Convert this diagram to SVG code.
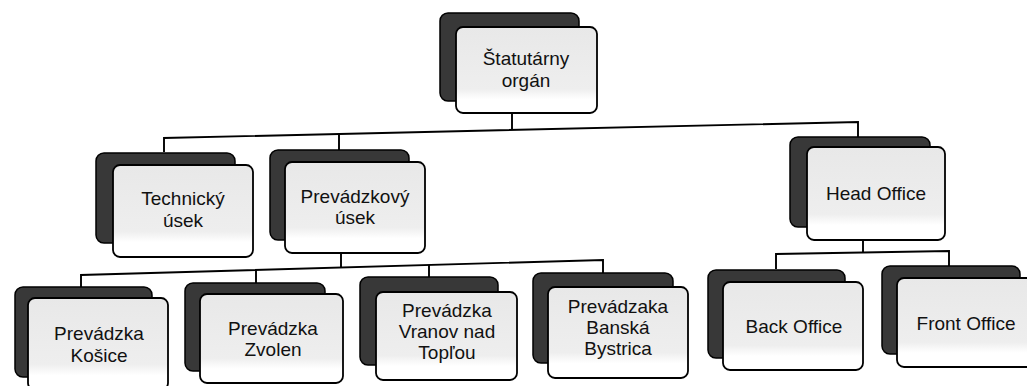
<svg xmlns="http://www.w3.org/2000/svg" width="1027" height="386" viewBox="0 0 1027 386">
  <defs>
    <linearGradient id="frontFill" x1="0" y1="0" x2="0" y2="1">
      <stop offset="0" stop-color="#e8e8e8"/>
      <stop offset="0.72" stop-color="#eeeeee"/>
      <stop offset="0.84" stop-color="#ffffff"/>
      <stop offset="1" stop-color="#ffffff"/>
    </linearGradient>
  </defs>
  <style>
    .back { fill: #383838; stroke: #000; stroke-width: 1.5; }
    .front { fill: url(#frontFill); stroke: #000; stroke-width: 1.8; }
    .conn { fill: none; stroke: #000; stroke-width: 1.9; }
    .lbl { font-family: "Liberation Sans", Arial, sans-serif; font-size: 19px; fill: #111; text-anchor: middle; }
  </style>
  <rect width="1027" height="386" fill="#ffffff"/>

  <g id="connectors">
    <polyline class="conn" points="512,113 512,130"/>
    <polyline class="conn" points="164,152 164,138 858,122 858,137"/>
    <polyline class="conn" points="339,134 339,150"/>
    <polyline class="conn" points="341,253 341,267"/>
    <polyline class="conn" points="81,287 81,275 603,260 603,273"/>
    <polyline class="conn" points="256,270 256,283"/>
    <polyline class="conn" points="429,265 429,277"/>
    <polyline class="conn" points="863,240 863,252"/>
    <polyline class="conn" points="776,269 776,254 949,251 949,266"/>
  </g>

  <g id="node-statutarny">
    <rect class="back" x="440" y="13" width="139" height="88" rx="8"/>
    <rect class="front" x="456" y="27" width="141" height="86" rx="7"/>
    <text class="lbl" x="526" y="65">Štatutárny</text>
    <text class="lbl" x="526" y="87">orgán</text>
  </g>

  <g id="node-technicky">
    <rect class="back" x="96" y="153" width="139" height="90" rx="8"/>
    <rect class="front" x="113" y="165" width="140" height="92" rx="7"/>
    <text class="lbl" x="183" y="205">Technický</text>
    <text class="lbl" x="183" y="227">úsek</text>
  </g>

  <g id="node-prevadzkovy">
    <rect class="back" x="270" y="150" width="139" height="90" rx="8"/>
    <rect class="front" x="285" y="162" width="140" height="91" rx="7"/>
    <text class="lbl" x="355" y="203">Prevádzkový</text>
    <text class="lbl" x="355" y="224">úsek</text>
  </g>

  <g id="node-headoffice">
    <rect class="back" x="790" y="137" width="140" height="90" rx="8"/>
    <rect class="front" x="807" y="147" width="138" height="93" rx="7"/>
    <text class="lbl" x="876" y="200">Head Office</text>
  </g>

  <g id="node-kosice">
    <rect class="back" x="15" y="287" width="137" height="90" rx="8"/>
    <rect class="front" x="28" y="298" width="140" height="92" rx="7"/>
    <text class="lbl" x="99" y="340">Prevádzka</text>
    <text class="lbl" x="99" y="362">Košice</text>
  </g>

  <g id="node-zvolen">
    <rect class="back" x="185" y="283" width="140" height="88" rx="8"/>
    <rect class="front" x="200" y="294" width="143" height="89" rx="7"/>
    <text class="lbl" x="273" y="335">Prevádzka</text>
    <text class="lbl" x="273" y="356">Zvolen</text>
  </g>

  <g id="node-vranov">
    <rect class="back" x="360" y="277" width="138" height="88" rx="8"/>
    <rect class="front" x="376" y="292" width="141" height="88" rx="7"/>
    <text class="lbl" x="447" y="317">Prevádzka</text>
    <text class="lbl" x="447" y="338">Vranov nad</text>
    <text class="lbl" x="447" y="359">Topľou</text>
  </g>

  <g id="node-banska">
    <rect class="back" x="533" y="273" width="140" height="90" rx="8"/>
    <rect class="front" x="548" y="287" width="140" height="91" rx="7"/>
    <text class="lbl" x="618" y="313">Prevádzaka</text>
    <text class="lbl" x="618" y="334">Banská</text>
    <text class="lbl" x="618" y="355">Bystrica</text>
  </g>

  <g id="node-backoffice">
    <rect class="back" x="708" y="270" width="137" height="88" rx="8"/>
    <rect class="front" x="723" y="282" width="140" height="88" rx="7"/>
    <text class="lbl" x="794" y="333">Back Office</text>
  </g>

  <g id="node-frontoffice">
    <rect class="back" x="882" y="266" width="138" height="88" rx="8"/>
    <rect class="front" x="897" y="278" width="140" height="89" rx="7"/>
    <text class="lbl" x="966" y="330">Front Office</text>
  </g>
</svg>
